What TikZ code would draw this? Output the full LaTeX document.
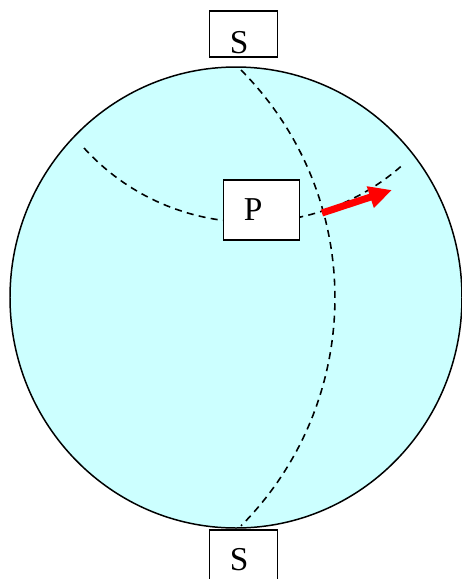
\documentclass[tikz,border=0pt]{standalone}
\usepackage{fontspec}
\setmainfont{Liberation Serif}
\usetikzlibrary{arrows.meta}
\definecolor{globe}{RGB}{204,255,255}
\tikzset{gbox/.style={
    rectangle,
    draw,
    line width=0.85pt,
    fill=white,
    font=\fontsize{19}{22}\selectfont,
    align=left,
    inner xsep=11.5pt,
    inner ysep=0pt
  },
  sbox/.style={gbox,text width=15.5pt,minimum height=26pt},
  pbox/.style={gbox,text width=20pt,minimum height=34pt},
  guide/.style={line width=0.9pt,dash pattern=on 4pt off 3pt},
  vec/.style={red,line width=4pt,-{Triangle[length=13pt,width=12pt]}},
}
\begin{document}
\begin{tikzpicture}[x=0.02cm,y=-0.02cm]
  \useasboundingbox (0,0) rectangle (461,579);
  \draw[line width=0.85pt,fill=globe] (236,297.5) ellipse [x radius=226,y radius=230.5];
  \draw[guide] (241,70) arc [start angle=-44.8,end angle=44.8,radius=323.5];
  \draw[guide] (84,148) arc [start angle=137.7,end angle=47.7,radius=227];
  \node [sbox,text height=21.8pt,text depth=0pt] (north) at (243.5,34) {S};
  \node [sbox,minimum height=34pt] (south) at (243.5,560) {S};
  \node [pbox] (pt) at (261.5,210) {P};
  \coordinate (tail) at (322,213);
  \coordinate (tip) at (392,190);
  \draw[vec] (tail) -- (tip);
\end{tikzpicture}
\end{document}
